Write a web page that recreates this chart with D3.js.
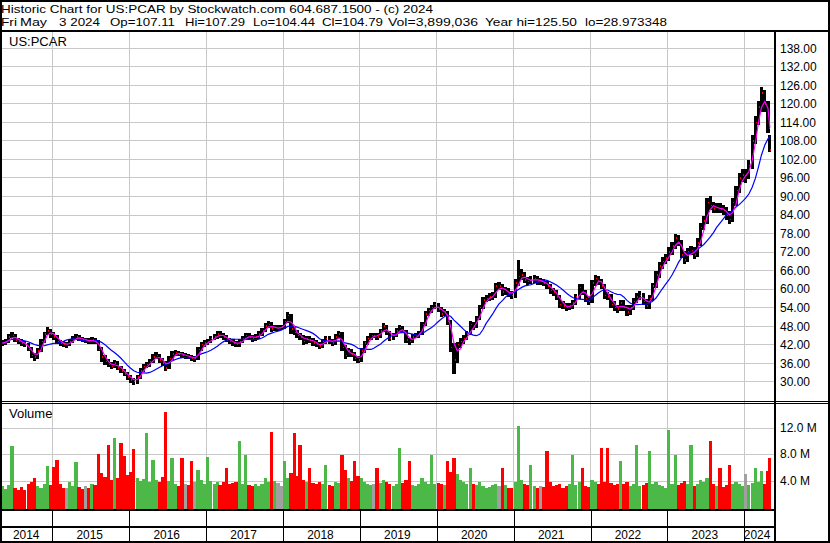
<!DOCTYPE html>
<html><head><meta charset="utf-8">
<script src="https://cdn.jsdelivr.net/npm/d3@7"></script>
<style>
body{margin:0;background:#fff}
svg{display:block}
text{font-family:"Liberation Sans",Arial,sans-serif;font-size:12px;fill:#000}
</style>
</head><body>
<svg id="c" width="830" height="543"></svg>
<script>
// ---- semi-monthly bars, May 2014 .. early May 2024 ----
const closes = [
 42.5,43, 44.5,45, 43.5,43, 42.5,42, 40.5,38.5, 38,40, 43,45.5, 46.5,45.5,
 44.5,43, 42.5,42, 42,43, 44,44.5, 44,43.5, 43.5,43, 43.5,43, 40.5,38, 36.5,35.5, 35,36, 34.5,33.5, 32.5,31.5,
 30.5,30, 31.5,33.5, 35,35.5, 36.5,38, 38.5,37, 36,34.5, 37.5,39, 39.5,39, 38.5,38.5, 38,37.5, 37.5,40.5, 42,42.5,
 43,44, 44.5,45.5, 45,44.5, 43.5,43, 42.5,42, 43,44, 45,44.5, 44,44.5, 45.5,46.5, 48,48.5, 47,47.5, 47.5,47.5,
 49.5,51.5, 47,46, 45,44.5, 43,44, 43.5,42.5, 42,41.5, 43,44, 43,42.5, 44.5,45.5, 41,38.5, 40,39, 37.5,37,
 40,42.5, 44,45, 45,44.5, 46.5,48, 46,44, 45,46.5, 47.5,46.5, 43.5,43, 44.5,45, 45.5,48.5, 52,53, 54,55,
 53.5,52, 52.5,49.5, 41,37, 42,43, 44,45.5, 48.5,48, 50.5,54, 56.5,57, 57.5,58, 61,61, 59,59.5, 58.5,58,
 62,64, 64.5,63, 62.5,63, 63.5,62.5, 62.5,62, 61,59.5, 59,57.5, 55,54.5, 54,54.5, 55.5,57.5, 60.5,59, 57,56,
 62,63.5, 62.5,61, 58,57.5, 55,54, 53.5,55.5, 54,52.5, 54,56, 57.5,58, 56,54.5, 57,61, 64.5,67.5, 69,70,
 72,74, 76.5,75, 71,69.5, 72,72.5, 71,75, 80,82, 88,87, 86,86.5, 86,85.5, 84,82.5, 88,92, 96,97,
 97,100, 108,114, 119,123.5, 120,112, 105
];
const highs = [
 43.4,43.9, 45.3,46, 45.6,44.3, 43.8,43.2, 42.6,41.1, 39.2,40.8, 43.7,46.2, 47.6,47,
 46,45, 43.6,43.2, 42.9,43.8, 44.8,45.4, 45.2,44.6, 44.3,44.2, 44.4,44.2, 43.5,41.2, 38.8,37.3, 36.3,36.9, 36.6,35.2, 34.2,33.2,
 32.2,31.3, 32.3,34.3, 35.8,36.3, 37.3,39, 39.5,39, 37.6,36.6, 38.2,39.8, 40.3,40.1, 39.6,39.4, 39.1,38.6, 38.4,41.3, 42.8,43.4,
 43.9,44.8, 45.3,46.3, 46.4,45.7, 45.2,44.2, 43.7,43.3, 43.8,44.8, 45.8,45.7, 45.2,45.4, 46.3,47.3, 48.9,49.6, 49.2,48.4, 48.5,48.4,
 50.3,52.6, 51.8,48.2, 46.8,45.8, 45,44.9, 44.8,44, 43.4,42.8, 43.8,44.9, 44.7,43.7, 45.3,46.4, 46,41.8, 40.9,40.6, 39.6,38.3,
 40.8,43.2, 44.8,45.8, 45.9,45.7, 47.2,48.9, 48.4,46.5, 45.8,47.3, 48.3,48, 46.8,44.2, 45.3,45.9, 46.3,49.3, 52.8,53.8, 54.8,55.8,
 55.6,54.2, 53.6,53, 50,42.5, 43,44.2, 45,46.4, 49.8,49.5, 51.4,55, 57.5,58.2, 58.6,59, 62,62.3, 61.8,60.6, 60.2,59.3,
 63.2,69.5, 66.5,65.5, 63.9,64.1, 64.6,64.4, 63.6,63.4, 62.7,61.8, 60.4,59.7, 58.1,56, 55.4,55.5, 56.5,58.5, 61.5,61.6, 59.8,57.9,
 63,64.7, 64.4,63.4, 61.8,59.2, 58.5,56, 55,56.6, 56.5,54.9, 55,57, 58.6,59.3, 58.8,56.8, 58,62, 65.8,68.8, 70.4,71.4,
 73.5,75.4, 78,77.6, 75.8,72.2, 73.3,74, 73.5,76.4, 81.4,83.6, 89.5,90, 88.2,88, 87.8,87.4, 86.6,85.3, 89.4,93.5, 97.6,98.8,
 99,101.8, 110,116, 121,125.5, 124.5,121, 110
];
const lows = [
 41.6,41.9, 42.6,44, 42.8,42.2, 41.6,41.2, 39.8,37.6, 36.8,37.4, 39.5,42.6, 45,44.3,
 43.6,42.2, 41.7,41.3, 41,41.5, 42.6,43.5, 43.2,42.7, 42.6,42.1, 42.3,42.1, 39.8,36.3, 35.4,34.6, 34,34.4, 33.7,32.8, 31.7,30.7,
 29.6,28.97, 29.4,31, 33,34.4, 34.9,36, 37.4,36.2, 35.2,33.6, 34.2,37, 38.4,38.3, 37.6,37.5, 37.2,36.6, 36.5,37, 40,41.4,
 41.9,42.4, 43.4,43.9, 44.2,43.6, 42.7,42.1, 41.6,41.1, 41.4,42.4, 43.5,43.6, 43,43.3, 43.8,44.9, 46,47.3, 46.2,46.4, 46.5,46.6,
 47,49, 45.6,45, 44,43.4, 42,42.3, 42.5,41.6, 41.2,40.5, 40.8,42.3, 42.2,41.6, 42,43.8, 40,37.5, 37.9,38.1, 36.6,35.9,
 36.5,39.4, 41.9,43.4, 44.1,43.6, 44,46, 45.2,43.2, 43.4,44.4, 46,45.7, 42.6,42, 42.5,44, 44.2,45, 48,51.4, 52.3,53.4,
 52.7,51, 51.3,48.5, 39.5,32.5, 36,41, 42.2,43.4, 45,46.8, 47.4,50, 53.4,55.8, 56,56.5, 57.2,59.8, 57.8,58.2, 57.4,56.9,
 57.2,61, 63,62, 61.3,61.6, 62.1,61.4, 61.3,61, 59.9,58.5, 57.9,56.4, 54,53.4, 53,53.2, 53.6,54.8, 56.8,58, 55.9,55,
 55.5,61, 61.3,59.9, 56.8,56.4, 54,52.8, 52.3,52.8, 53,51.2, 51.6,53.2, 55.4,56.6, 55,53.4, 53.6,56.2, 60.2,63.5, 66.5,68,
 69,71, 73,73.8, 70,68, 68.8,71, 69.6,70.3, 74,79, 81,85.5, 84.5,84.8, 84.6,84, 82.4,81, 81.8,87, 91,94.6,
 94.5,95.8, 99,107, 113,117.5, 117.5,110.5, 104.4
];
// volume, millions of shares
const volumes = [
 3.2,2.8,3.4,9.3,3.0,2.6,3.1,2.7,3.5,3.9,4.4,3.3,3.0,3.6,6.3,3.4,
 6.2,7.2,3.5,3.0,2.9,3.8,3.2,6.9,3.1,2.8,3.3,3.0,3.6,3.4,8.1,5.2,
 4.6,9.4,4.1,10.5,4.4,9.7,7.8,4.9,5.3,8.8,4.5,4.0,4.3,11.2,3.9,7.2,
 4.2,3.8,4.6,14.5,4.0,7.5,3.6,3.2,7.5,3.5,3.4,7.0,3.8,5.6,4.1,3.5,
 7.6,4.0,3.6,3.9,3.4,3.8,6.0,3.5,3.7,3.9,10.0,3.6,8.0,3.4,3.2,3.5,
 3.3,3.6,4.4,3.8,11.4,4.0,3.7,3.2,7.0,4.5,5.2,11.2,4.8,9.5,4.1,3.8,
 6.0,3.7,3.5,3.9,3.6,6.5,3.4,3.2,3.8,3.7,8.0,5.6,4.4,4.0,7.0,4.8,
 4.5,3.9,3.6,3.4,3.5,6.0,3.7,4.2,3.9,3.6,3.3,3.5,9.0,3.7,4.1,7.0,
 3.4,3.2,3.6,4.4,3.8,3.5,8.0,3.6,3.7,3.5,3.4,7.0,5.4,7.5,5.0,4.2,
 3.8,3.6,6.0,3.5,3.4,3.9,3.2,2.9,3.1,3.4,3.6,3.2,6.0,3.4,3.0,2.9,
 3.8,12.3,4.2,3.6,3.4,6.5,3.2,3.0,3.3,3.1,8.5,3.9,3.2,3.4,3.6,3.0,
 3.2,3.5,8.0,3.4,3.8,6.0,3.3,3.1,4.2,3.9,3.6,9.0,3.8,9.0,3.7,3.4,
 3.6,7.0,3.5,3.8,3.3,3.6,9.5,3.2,3.4,3.7,8.5,3.6,3.9,3.4,3.2,3.0,
 11.8,3.6,8.0,3.4,3.7,4.0,3.5,9.5,3.3,3.6,4.2,3.9,4.4,10.0,3.5,3.2,
 6.0,3.1,3.4,6.5,3.5,3.8,3.6,3.3,5.0,3.4,3.7,6.0,3.9,5.5,3.6,5.5,7.5
];
const priceTicks = [30,36,42,48,54,60,66,72,78,84,90,96,102,108,114,120,126,132,138];
const volumeTicks = [4,8,12];
const volumeTickLabels = ["4.0 M","8.0 M","12.0 M"];
const years = [2014,2015,2016,2017,2018,2019,2020,2021,2022,2023,2024];
const headerLine1 = "Historic Chart for US:PCAR by Stockwatch.com 604.687.1500 - (c) 2024";
const headerLine2 = ["Fri","May","3 2024","Op=107.11","Hi=107.29","Lo=104.44","Cl=104.79","Vol=3,899,036","Year hi=125.50","lo=28.973348"];
const maShortWindow = 3, maLongWindow = 10;

// ---- categories: half-month periods ----
const endDate = new Date(Date.UTC(2024,4,3));
const dates = closes.map((c,i)=>{
  const d = d3.utcMonth.offset(new Date(Date.UTC(2014,4,1)), Math.floor(i/2));
  d.setUTCDate(i%2 ? 23 : 8);
  return d > endDate ? new Date(Date.UTC(2024,4,2)) : d;
});
const n = Math.min(closes.length, highs.length, lows.length, volumes.length);
const data = d3.range(n).map(i=>({date:dates[i], c:closes[i], h:highs[i], l:lows[i], v:volumes[i],
  prev: i>0 ? closes[i-1] : closes[i]-0.1}));
function sma(w){ return data.map((d,i)=>({date:d.date, v:d3.mean(data.slice(Math.max(0,i-w+1), i+1), e=>e.c)})); }
const maShort = sma(maShortWindow), maLong = sma(maLongWindow);

// ---- scales ----
const x = d3.scaleUtc().domain([new Date(Date.UTC(2014,4,5)), endDate]).range([1.6,770.1]);
const yP = d3.scaleLinear().domain([30,138]).range([381.7,48.3]);
const yV = d3.scaleLinear().domain([0,12]).range([507.5,428.2]);
const bw = 3.2;

const svg = d3.select('#c');
svg.append('rect').attr('width',830).attr('height',543).attr('fill','#fff');
const defs = svg.append('defs');
defs.append('clipPath').attr('id','cp').append('rect').attr('x',2).attr('y',31.5).attr('width',772).attr('height',369);
defs.append('clipPath').attr('id','cv').append('rect').attr('x',2).attr('y',403).attr('width',772).attr('height',106);

const grid = svg.append('g').attr('stroke','#c8c8c8').attr('stroke-width',1).attr('shape-rendering','crispEdges');
priceTicks.forEach(t=>grid.append('line').attr('x1',2).attr('x2',774).attr('y1',yP(t)).attr('y2',yP(t)));
volumeTicks.forEach(t=>grid.append('line').attr('x1',2).attr('x2',774).attr('y1',yV(t)).attr('y2',yV(t)));
const yearEdges = years.slice(1).map(y=>x(new Date(Date.UTC(y,0,1))));
yearEdges.forEach(xx=>grid.append('line').attr('x1',xx).attr('x2',xx).attr('y1',31.5).attr('y2',509));

// ---- volume ----
const gv = svg.append('g').attr('clip-path','url(#cv)').attr('shape-rendering','crispEdges');
gv.selectAll('rect').data(data).join('rect')
  .attr('x',d=>x(d.date)-bw/2).attr('width',bw)
  .attr('y',d=>yV(d.v)).attr('height',d=>509-yV(d.v))
  .attr('fill',d=>d.c>d.prev?'#4cb848':(d.c<d.prev?'#ff0000':'#a0a0a0'));

// ---- price ----
const gp = svg.append('g').attr('clip-path','url(#cp)');
gp.append('g').attr('shape-rendering','crispEdges').selectAll('rect').data(data).join('rect')
  .attr('x',d=>x(d.date)-bw/2).attr('width',bw)
  .attr('y',d=>yP(d.h)).attr('height',d=>yP(d.l)-yP(d.h)).attr('fill','#000');
gp.append('g').attr('shape-rendering','crispEdges').selectAll('rect').data(data).join('rect')
  .attr('x',d=>x(d.date)+0.6).attr('width',1)
  .attr('y',d=>yP(d.c)-0.75).attr('height',1.5).attr('fill','#ff0000');
const line = d3.line().x(d=>x(d.date)).y(d=>yP(d.v));
gp.append('path').datum(maLong).attr('d',line).attr('fill','none').attr('stroke','#0000ff').attr('stroke-width',1.2);
gp.append('path').datum(maShort).attr('d',line).attr('fill','none').attr('stroke','#ff00ff').attr('stroke-width',1.2);

// ---- frames ----
const fr = svg.append('g').attr('fill','#000').attr('shape-rendering','crispEdges');
fr.append('rect').attr('x',0).attr('y',0).attr('width',830).attr('height',1.5);
fr.append('rect').attr('x',0).attr('y',0).attr('width',2).attr('height',543);
fr.append('rect').attr('x',828).attr('y',0).attr('width',2).attr('height',543);
fr.append('rect').attr('x',0).attr('y',541).attr('width',830).attr('height',2);
fr.append('rect').attr('x',0).attr('y',29.5).attr('width',830).attr('height',2);
fr.append('rect').attr('x',774).attr('y',30).attr('width',2).attr('height',513);
fr.append('rect').attr('x',0).attr('y',400.5).attr('width',830).attr('height',1);
fr.append('rect').attr('x',0).attr('y',402.5).attr('width',830).attr('height',1);
fr.append('rect').attr('x',0).attr('y',509).attr('width',775).attr('height',2);
fr.append('rect').attr('x',0).attr('y',525.5).attr('width',775).attr('height',2);
yearEdges.forEach(xx=>fr.append('rect').attr('x',Math.round(xx)).attr('y',510).attr('width',1).attr('height',31));

// ---- texts ----
svg.append('text').attr('x',1).attr('y',12.8).style('font-size','11.5px')
  .attr('textLength',432).attr('lengthAdjust','spacingAndGlyphs').text(headerLine1);
const seg = [[1,16],[20,27],[59,41],[110,65],[185,60],[253,62],[322,61],[388,90],[485,92],[585,82]];
headerLine2.forEach((t,i)=>svg.append('text').attr('x',seg[i][0]).attr('y',26.2).style('font-size','11.5px')
  .attr('textLength',seg[i][1]).attr('lengthAdjust','spacingAndGlyphs').text(t));
svg.append('text').attr('x',9).attr('y',46).style('font-size','13px').text('US:PCAR');
svg.append('text').attr('x',9).attr('y',417.7).style('font-size','13px').text('Volume');
priceTicks.forEach(t=>svg.append('text').attr('x',780).attr('y',yP(t)+4.4).text(t.toFixed(2)));
volumeTicks.forEach((t,i)=>svg.append('text').attr('x',780).attr('y',yV(t)+3.6).text(volumeTickLabels[i]));
const bounds = [2, ...yearEdges, 772];
years.forEach((yr,i)=>{
  const cx = (bounds[i]+bounds[i+1])/2 - 1;
  svg.append('text').attr('x',cx).attr('y',539.3).attr('text-anchor','middle')
    .style('font-size','13px').attr('textLength',26.5).attr('lengthAdjust','spacingAndGlyphs').text(yr);
});
</script>
</body></html>
